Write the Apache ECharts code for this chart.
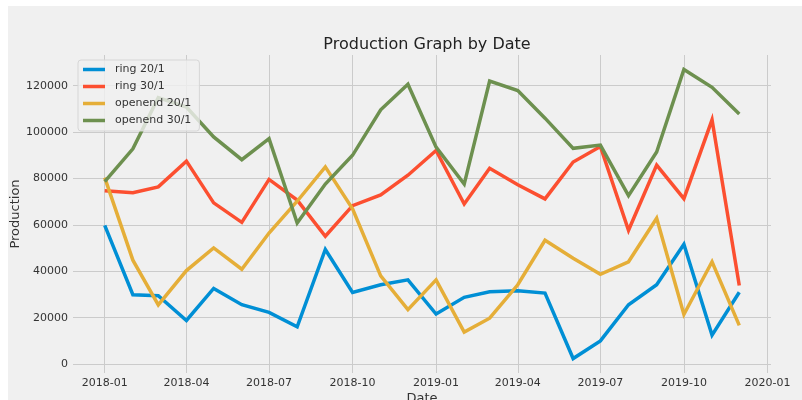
<!DOCTYPE html>
<html>
<head>
<meta charset="utf-8">
<script src="https://cdn.jsdelivr.net/npm/echarts@6/dist/echarts.min.js"></script>
<style>
  html, body { margin: 0; padding: 0; background: #ffffff; }
  #chart { width: 802px; height: 400px; }
</style>
</head>
<body>
<div id="chart"></div>
<script>
// Monthly production, Jan 2018 – Dec 2019
const months = [
  '2018-01', '2018-02', '2018-03', '2018-04', '2018-05', '2018-06',
  '2018-07', '2018-08', '2018-09', '2018-10', '2018-11', '2018-12',
  '2019-01', '2019-02', '2019-03', '2019-04', '2019-05', '2019-06',
  '2019-07', '2019-08', '2019-09', '2019-10', '2019-11', '2019-12'
];

const ring20 = [
  59800, 29900, 29500, 18800, 32600, 25600, 22300, 16100, 49400, 30900, 34200, 36300,
  21600, 28800, 31200, 31600, 30600, 2400, 10000, 25600, 34200, 51700, 12500, 31000
];
const ring30 = [
  74700, 73900, 76400, 87500, 69500, 61100, 79600, 70700, 55100, 68300, 72900, 81400,
  92100, 69000, 84400, 77300, 71200, 87100, 93800, 57700, 85800, 71300, 105300, 33900
];
const openend20 = [
  80400, 44800, 25500, 40300, 50100, 40900, 56500, 70200, 85000, 66900, 38000, 23500,
  36300, 13800, 19800, 34200, 53400, 45600, 38700, 44100, 62900, 21400, 44100, 16700
];
const openend30 = [
  78700, 92800, 114900, 110800, 97900, 88100, 97200, 60800, 77600, 90000, 109600, 120600,
  93500, 77600, 122000, 117900, 106000, 93000, 94400, 72600, 91400, 127000, 119300, 107800
];

const seriesNames = ['ring 20/1', 'ring 30/1', 'openend 20/1', 'openend 30/1'];
const seriesValues = [ring20, ring30, openend20, openend30];
const colors = ['#008fd5', '#fc4f30', '#e5ae38', '#6d904f'];

const xTickLabels = ['2018-01', '2018-04', '2018-07', '2018-10', '2019-01',
                     '2019-04', '2019-07', '2019-10', '2020-01'];
const yTickValues = [0, 20000, 40000, 60000, 80000, 100000, 120000];

// dates are placed on a numeric axis measured in days since 1970-01-01 (UTC)
const DAY = 86400000;
function toDay(ym) {
  const [y, m] = ym.split('-').map(Number);
  return Date.UTC(y, m - 1, 1) / DAY;
}
function pad2(n) { return n < 10 ? '0' + n : '' + n; }
function dayLabel(v) {
  const d = new Date(Math.round(v) * DAY);
  return d.getUTCFullYear() + '-' + pad2(d.getUTCMonth() + 1);
}

const xTicks = xTickLabels.map(toDay);
const monthDays = months.map(toDay);

// axis extent padded by 5% of the data span on each side
const tSpan = monthDays[monthDays.length - 1] - monthDays[0];
const xMin = monthDays[0] - tSpan * 0.05;
const xMax = monthDays[monthDays.length - 1] + tSpan * 0.05;
const allVals = [].concat(...seriesValues);
const vMin = Math.min(...allVals), vMax = Math.max(...allVals);
const yMin = vMin - (vMax - vMin) * 0.05;
const yMax = vMax + (vMax - vMin) * 0.05;

const fontFamily = 'DejaVu Sans';
const chart = echarts.init(document.getElementById('chart'), null, { renderer: 'canvas' });

chart.setOption({
  backgroundColor: 'transparent',
  animation: false,
  textStyle: { fontFamily: fontFamily },
  graphic: [{
    type: 'rect',
    z: -10,
    silent: true,
    shape: { x: 8, y: 6, width: 794, height: 394 },
    style: { fill: '#f0f0f0' }
  }],
  title: {
    text: 'Production Graph by Date',
    left: 422,
    textAlign: 'center',
    top: 32,
    textStyle: { fontFamily: fontFamily, fontSize: 16, fontWeight: 'normal', color: '#222' }
  },
  legend: {
    orient: 'vertical',
    left: 78,
    top: 60,
    padding: [1, 8, 2, 5],
    itemGap: 0,
    itemWidth: 22,
    itemHeight: 3.5,
    icon: 'rect',
    backgroundColor: 'rgba(240,240,240,0.8)',
    borderColor: '#d6d6d6',
    borderWidth: 1,
    borderRadius: 3,
    data: seriesNames,
    textStyle: { fontFamily: fontFamily, fontSize: 11, color: '#333', lineHeight: 17, padding: [0, 0, 0, 5] }
  },
  grid: { left: 73, right: 31, top: 55, bottom: 27, containLabel: false, outerBoundsMode: 'none' },
  xAxis: {
    type: 'value',
    min: xMin,
    max: xMax,
    name: 'Date',
    nameLocation: 'middle',
    nameGap: 19,
    nameMoveOverlap: false,
    nameTextStyle: { fontFamily: fontFamily, fontSize: 13, color: '#333' },
    axisLine: { show: false },
    axisTick: { show: false, customValues: xTicks },
    axisLabel: {
      customValues: xTicks,
      margin: 5,
      fontSize: 11,
      color: '#333',
      fontFamily: fontFamily,
      formatter: dayLabel
    },
    splitLine: { show: true, lineStyle: { color: '#cbcbcb', width: 1 } }
  },
  yAxis: {
    type: 'value',
    min: yMin,
    max: yMax,
    name: 'Production',
    nameLocation: 'middle',
    nameGap: 51,
    nameMoveOverlap: false,
    nameTextStyle: { fontFamily: fontFamily, fontSize: 13, color: '#333' },
    axisLine: { show: false },
    axisTick: { show: false, customValues: yTickValues },
    axisLabel: {
      customValues: yTickValues,
      margin: 5,
      fontSize: 11,
      color: '#333',
      fontFamily: fontFamily,
      formatter: function (v) { return String(v); }
    },
    splitLine: { show: true, lineStyle: { color: '#cbcbcb', width: 1 } }
  },
  series: seriesNames.map((name, i) => ({
    name: name,
    type: 'line',
    showSymbol: false,
    symbol: 'none',
    color: colors[i],
    lineStyle: { width: 3.5, color: colors[i], cap: 'butt', join: 'miter' },
    data: monthDays.map((t, j) => [t, seriesValues[i][j]])
  }))
});
</script>
</body>
</html>
